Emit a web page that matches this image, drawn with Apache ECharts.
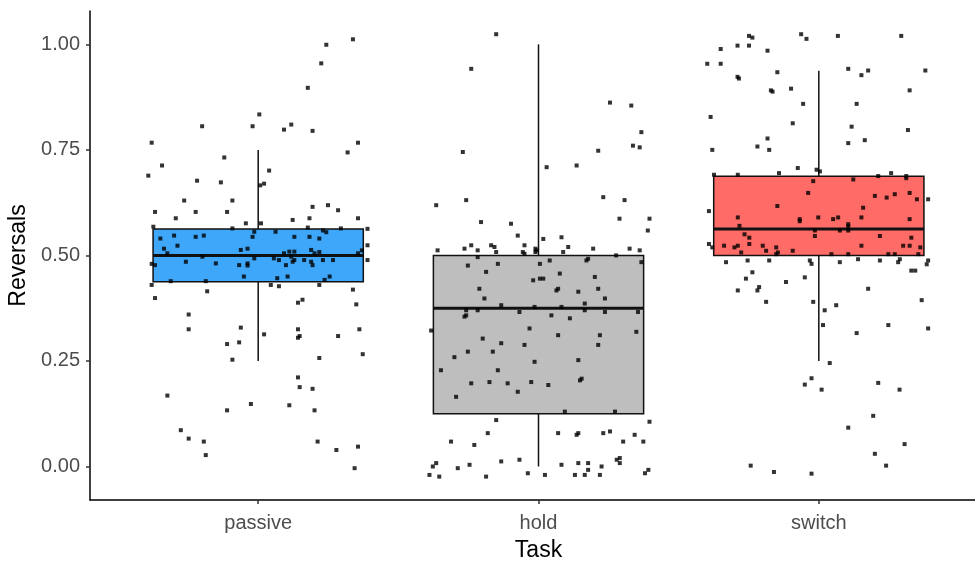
<!DOCTYPE html>
<html>
<head>
<meta charset="utf-8">
<script src="https://cdn.jsdelivr.net/npm/echarts@6/dist/echarts.min.js"></script>
<style>
  html, body { margin: 0; padding: 0; background: #fff; }
  #chart { width: 975px; height: 563px; }
</style>
</head>
<body>
<div id="chart"></div>
<script>
(function (echarts) {
    'use strict';

    // categories on the x axis
    const categories = ['passive', 'hold', 'switch'];

    // box stats per task: [lower whisker, Q1, median, Q3, upper whisker]
    const boxStats = [
        [0.25, 0.4375, 0.5, 0.5625, 0.75],
        [0.0, 0.125, 0.375, 0.5, 1.0],
        [0.25, 0.5, 0.5625, 0.6875, 0.9375]
    ];

    const yTicks = [0, 0.25, 0.5, 0.75, 1.0];

    // jittered points per task: [horizontal jitter, reversals]
    const passivePoints = [
        [0.338,1.012],[0.243,0.999],[0.225,0.955],[0.177,0.897],[0.004,0.834],[-0.200,0.806],[-0.020,0.806],[0.092,0.798],
        [0.118,0.810],[0.194,0.795],[-0.380,0.767],[0.356,0.767],[0.319,0.744],[-0.121,0.732],[-0.343,0.713],[0.039,0.701],
        [-0.392,0.689],[-0.218,0.677],[-0.133,0.673],[0.021,0.670],[0.007,0.666],[-0.264,0.630],[-0.092,0.630],[0.194,0.615],
        [0.249,0.619],[0.285,0.607],[-0.368,0.603],[-0.223,0.603],[-0.111,0.603],[-0.294,0.588],[0.123,0.584],[0.183,0.588],
        [0.356,0.588],[-0.044,0.576],[0.010,0.576],[-0.374,0.568],[-0.092,0.564],[0.177,0.566],[0.231,0.559],[0.243,0.555],
        [0.295,0.564],[0.390,0.563],[-0.014,0.556],[0.062,0.556],[-0.300,0.547],[-0.349,0.540],[-0.223,0.544],[-0.194,0.547],
        [-0.020,0.544],[0.129,0.544],[0.183,0.544],[0.218,0.540],[-0.288,0.523],[-0.336,0.516],[-0.062,0.513],[-0.038,0.516],
        [0.390,0.524],[0.370,0.512],[-0.324,0.505],[-0.199,0.497],[-0.014,0.493],[0.056,0.493],[0.092,0.505],[0.111,0.509],
        [0.129,0.509],[0.118,0.497],[0.189,0.513],[0.218,0.508],[0.201,0.505],[0.356,0.505],[-0.258,0.485],[-0.151,0.481],
        [-0.068,0.477],[-0.038,0.481],[-0.038,0.476],[0.074,0.489],[0.123,0.485],[0.129,0.489],[0.164,0.489],[0.189,0.485],
        [0.194,0.477],[0.231,0.489],[0.267,0.489],[0.390,0.489],[-0.380,0.480],[-0.368,0.477],[0.099,0.477],[-0.051,0.450],
        [0.068,0.446],[0.105,0.450],[0.255,0.450],[0.237,0.442],[-0.312,0.439],[-0.187,0.439],[-0.380,0.430],[0.045,0.430],
        [0.074,0.427],[0.218,0.430],[0.338,0.419],[-0.182,0.415],[-0.368,0.399],[0.158,0.395],[0.142,0.388],[0.350,0.384],
        [-0.248,0.360],[-0.062,0.329],[-0.248,0.325],[0.021,0.313],[0.142,0.325],[0.148,0.309],[0.142,0.305],[0.285,0.309],
        [0.361,0.325],[-0.068,0.294],[-0.111,0.290],[-0.092,0.253],[0.218,0.257],[0.373,0.266],[0.142,0.211],[0.148,0.188],
        [0.194,0.184],[-0.324,0.168],[-0.026,0.148],[-0.111,0.133],[0.111,0.145],[0.201,0.133],[-0.276,0.086],[-0.248,0.066],
        [-0.194,0.059],[0.212,0.059],[0.356,0.047],[0.279,0.039],[-0.187,0.027],[0.344,-0.004]
    ];

    const holdPoints = [
        [-0.151,1.024],[-0.240,0.942],[0.255,0.862],[0.331,0.855],[0.367,0.792],[0.337,0.760],[0.361,0.756],[-0.270,0.745],
        [0.213,0.748],[0.029,0.709],[0.136,0.713],[0.231,0.638],[-0.365,0.619],[-0.258,0.631],[0.307,0.631],[-0.205,0.579],
        [-0.098,0.575],[0.289,0.587],[0.396,0.587],[0.390,0.559],[-0.074,0.547],[0.017,0.539],[0.082,0.543],[-0.360,0.512],
        [-0.264,0.516],[-0.240,0.524],[-0.217,0.512],[-0.169,0.524],[-0.157,0.520],[-0.151,0.508],[-0.056,0.508],[-0.050,0.524],
        [-0.050,0.504],[-0.011,0.516],[-0.011,0.508],[-0.007,0.512],[0.088,0.508],[0.106,0.520],[0.195,0.516],[0.277,0.500],
        [0.325,0.516],[0.361,0.512],[-0.217,0.496],[-0.145,0.480],[0.005,0.480],[0.040,0.488],[0.171,0.488],[0.177,0.492],
        [0.367,0.484],[-0.252,0.476],[-0.187,0.461],[0.076,0.457],[-0.019,0.441],[0.005,0.445],[0.017,0.445],[0.201,0.449],
        [-0.211,0.421],[0.064,0.417],[0.070,0.421],[0.142,0.414],[0.213,0.421],[-0.193,0.398],[0.237,0.398],[-0.133,0.382],
        [0.165,0.386],[-0.014,0.378],[0.082,0.378],[-0.258,0.370],[-0.217,0.370],[-0.068,0.366],[0.165,0.370],[0.237,0.366],
        [0.355,0.366],[-0.264,0.355],[-0.258,0.358],[0.046,0.358],[0.112,0.351],[-0.383,0.322],[-0.032,0.327],[0.070,0.311],
        [0.219,0.311],[0.349,0.319],[-0.199,0.303],[-0.133,0.292],[-0.050,0.288],[0.213,0.288],[-0.252,0.272],[-0.163,0.272],
        [-0.300,0.259],[0.142,0.252],[-0.348,0.228],[-0.145,0.228],[-0.014,0.248],[0.148,0.204],[0.154,0.208],[-0.240,0.197],
        [-0.175,0.200],[-0.110,0.197],[-0.026,0.200],[0.035,0.193],[-0.074,0.177],[-0.294,0.165],[0.094,0.130],[0.273,0.130],
        [-0.151,0.110],[0.396,0.106],[-0.181,0.079],[0.070,0.079],[0.136,0.075],[0.142,0.079],[0.231,0.079],[0.255,0.083],
        [0.343,0.075],[-0.312,0.059],[-0.229,0.051],[0.302,0.059],[0.374,0.059],[-0.133,0.012],[-0.068,0.016],[-0.365,0.008],
        [-0.377,0.000],[-0.246,0.004],[-0.288,-0.004],[0.082,0.004],[0.142,0.008],[0.177,0.008],[0.177,-0.008],[0.225,0.000],
        [0.279,0.016],[0.290,0.020],[0.290,0.008],[0.392,-0.008],[0.380,-0.016],[-0.389,-0.020],[-0.354,-0.024],[-0.187,-0.024],
        [-0.038,-0.016],[0.023,-0.020],[0.130,-0.020],[0.165,-0.020],[0.219,-0.020]
    ];

    const switchPoints = [
        [-0.249,1.020],[-0.237,1.016],[-0.063,1.024],[-0.044,1.013],[0.068,1.020],[0.294,1.020],[-0.350,0.989],[-0.290,0.997],
        [-0.249,0.997],[-0.183,0.985],[-0.398,0.954],[-0.350,0.954],[-0.290,0.923],[-0.285,0.919],[-0.148,0.934],[0.105,0.942],
        [0.152,0.927],[0.176,0.938],[0.380,0.938],[-0.171,0.891],[-0.165,0.888],[-0.099,0.895],[0.324,0.891],[-0.056,0.859],
        [0.135,0.859],[-0.386,0.828],[-0.093,0.813],[0.117,0.805],[0.318,0.797],[-0.183,0.777],[-0.219,0.758],[-0.177,0.750],
        [-0.380,0.750],[0.105,0.766],[0.164,0.773],[-0.075,0.707],[-0.008,0.703],[0.004,0.699],[-0.289,0.691],[-0.142,0.695],
        [0.212,0.688],[0.258,0.695],[0.312,0.688],[0.312,0.683],[-0.374,0.691],[0.123,0.680],[-0.020,0.676],[-0.038,0.648],
        [0.200,0.641],[0.242,0.637],[0.271,0.645],[0.324,0.648],[0.350,0.633],[0.390,0.633],[-0.148,0.617],[0.158,0.613],
        [-0.392,0.605],[-0.289,0.590],[-0.068,0.586],[-0.068,0.581],[-0.002,0.590],[0.051,0.586],[0.069,0.590],[0.152,0.590],
        [0.324,0.586],[-0.283,0.570],[0.105,0.574],[0.105,0.569],[-0.014,0.559],[0.075,0.559],[0.105,0.559],[-0.265,0.550],
        [-0.248,0.542],[-0.014,0.546],[0.218,0.546],[0.330,0.542],[-0.392,0.527],[-0.380,0.519],[-0.338,0.523],[-0.301,0.519],
        [-0.289,0.523],[-0.248,0.527],[-0.200,0.523],[-0.152,0.519],[-0.188,0.511],[-0.277,0.507],[-0.146,0.507],[-0.152,0.503],
        [-0.093,0.511],[0.152,0.523],[0.301,0.523],[0.324,0.523],[0.362,0.519],[0.045,0.503],[0.105,0.503],[0.248,0.503],
        [0.271,0.503],[0.355,0.503],[-0.331,0.484],[-0.254,0.488],[-0.177,0.488],[-0.032,0.488],[-0.026,0.480],[0.075,0.484],
        [0.140,0.491],[0.218,0.488],[0.283,0.484],[0.289,0.491],[0.390,0.488],[0.385,0.479],[0.330,0.464],[0.344,0.464],
        [-0.237,0.460],[-0.050,0.448],[-0.260,0.445],[-0.117,0.437],[-0.213,0.425],[-0.219,0.417],[-0.289,0.417],[0.176,0.421],
        [-0.188,0.390],[-0.020,0.390],[0.062,0.382],[0.367,0.394],[0.021,0.370],[0.015,0.335],[0.135,0.316],[0.248,0.335],
        [0.390,0.327],[0.039,0.245],[-0.026,0.209],[-0.050,0.194],[0.010,0.182],[0.212,0.198],[0.288,0.182],[0.194,0.120],
        [0.105,0.092],[0.306,0.053],[0.200,0.030],[-0.243,0.002],[0.240,0.002],[-0.160,-0.013],[-0.026,-0.017]
    ];

    const boxColors = ['#3FA7FA', '#BEBEBE', '#FF6B66'];
    const BOX_HALF = 0.375;
    const FONT = '"Liberation Sans", Arial, sans-serif';

    const pointSets = [passivePoints, holdPoints, switchPoints];
    const scatterData = [];
    pointSets.forEach((set, i) => {
        set.forEach(p => scatterData.push([i + 1 + p[0], p[1]]));
    });

    const boxData = boxStats.map((s, i) => [i + 1].concat(s));

    function renderBox(params, api) {
        const x = api.value(0);
        const lo = api.coord([x, api.value(1)]);
        const q1 = api.coord([x, api.value(2)]);
        const med = api.value(3);
        const q3 = api.coord([x, api.value(4)]);
        const hi = api.coord([x, api.value(5)]);
        const tl = api.coord([x - BOX_HALF, api.value(4)]);
        const br = api.coord([x + BOX_HALF, api.value(2)]);
        const ml = api.coord([x - BOX_HALF, med]);
        const mr = api.coord([x + BOX_HALF, med]);
        const lineStyle = { stroke: '#111', lineWidth: 1.5 };
        return {
            type: 'group',
            children: [
                { type: 'line', shape: { x1: hi[0], y1: hi[1], x2: q3[0], y2: q3[1] }, style: lineStyle },
                { type: 'line', shape: { x1: q1[0], y1: q1[1], x2: lo[0], y2: lo[1] }, style: lineStyle },
                {
                    type: 'rect',
                    shape: { x: tl[0], y: tl[1], width: br[0] - tl[0], height: br[1] - tl[1] },
                    style: { fill: boxColors[params.dataIndex], stroke: '#111', lineWidth: 1.5 }
                },
                { type: 'line', shape: { x1: ml[0], y1: ml[1], x2: mr[0], y2: mr[1] }, style: { stroke: '#111', lineWidth: 3 } }
            ]
        };
    }

    const chart = echarts.init(document.getElementById('chart'), null, { renderer: 'canvas' });

    chart.setOption({
        animation: false,
        backgroundColor: '#fff',
        grid: { left: 90, right: -12, top: 11, bottom: 63, containLabel: false, outerBoundsMode: 'none' },
        xAxis: {
            type: 'value',
            min: 0.4,
            max: 3.6,
            name: 'Task',
            nameLocation: 'middle',
            nameGap: 39,
            nameTextStyle: { fontFamily: FONT, fontSize: 23, color: '#000' },
            axisLine: { onZero: false, lineStyle: { color: '#000', width: 1.5 } },
            axisTick: { length: 4, customValues: [1, 2, 3], lineStyle: { color: '#333', width: 1.5 } },
            axisLabel: {
                customValues: [1, 2, 3],
                formatter: v => categories[Math.round(v) - 1],
                fontFamily: FONT, fontSize: 20, color: '#4D4D4D', margin: 13
            },
            splitLine: { show: false }
        },
        yAxis: {
            type: 'value',
            min: -0.0794,
            max: 1.079,
            name: 'Reversals',
            nameLocation: 'middle',
            nameGap: 56,
            nameTextStyle: { fontFamily: FONT, fontSize: 23, color: '#000' },
            axisLine: { show: true, onZero: false, lineStyle: { color: '#000', width: 1.5 } },
            axisTick: { show: true, length: 4, customValues: yTicks, lineStyle: { color: '#333', width: 1.5 } },
            axisLabel: {
                customValues: yTicks,
                formatter: v => v.toFixed(2),
                fontFamily: FONT, fontSize: 20, color: '#4D4D4D', margin: 10
            },
            splitLine: { show: false }
        },
        series: [
            {
                type: 'custom',
                renderItem: renderBox,
                encode: { x: 0, y: [1, 2, 3, 4, 5] },
                data: boxData,
                z: 2
            },
            {
                type: 'scatter',
                symbol: 'rect',
                symbolSize: 4,
                itemStyle: { color: '#000' },
                data: scatterData,
                z: 3
            }
        ]
    });

})(echarts);
</script>
</body>
</html>
